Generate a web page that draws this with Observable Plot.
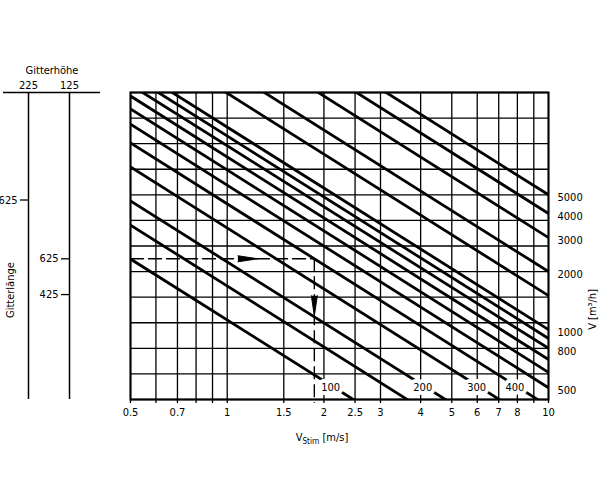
<!DOCTYPE html>
<html><head><meta charset="utf-8">
<script src="https://cdn.jsdelivr.net/npm/d3@7"></script>
<script src="https://cdn.jsdelivr.net/npm/@observablehq/plot@0.6"></script>
<style>
body{margin:0;background:#fff;}
#wrap{position:relative;width:600px;height:499px;}
#wrap svg{position:absolute;left:0;top:0;}
</style></head><body><div id="wrap"></div>
<script>
// x: face velocity [m/s] (log)
const speedGrid = [0.5,0.6,0.7,0.8,0.9,1,1.5,2,2.5,3,4,5,6,7,8,9,10];
const speedLabels = [0.5,0.7,1,1.5,2,2.5,3,4,5,6,7,8,10];
// diagonal lines: volume flow [m³/h]
const flowLines = [100,150,200,300,400,500,600,700,800,900,1000,1500,2000,3000,4000,5000];
const flowLabelsRight = [5000,4000,3000,2000,1000,800,500];
const flowLabelsBottom = [100,200,300,400];
const flowLabelRow = 500;
// y: equivalent flow at 10 m/s (log); horizontal grid every 2.5^(1/3)
const flowGridBase = 5000, flowGridRatio = 2.5 ** (1/3), flowGridSteps = [-8,-7,-6,-5,-4,-3,-2,-1,0,1,2,3,4];
const refSpeed = 10;
const slopeExp = 1.05;
// grille scale on the left
const gitterHoehe = ["225","125"];
const tickHoehe = ["225","125","125"];
const tickLaenge = [625,625,425];
const tickFlow = [4700,2330,1520];
// worked example
const exampleFlow = 400;
const exampleGrille = 1;
const exampleArrowSpeed = 1.08;
const exampleArrowFlow = 1500;

const gridQ = flowGridSteps.map(k => flowGridBase * flowGridRatio ** k);
const qMin = d3.min(gridQ), qMax = d3.max(gridQ);
const lineData = flowLines.flatMap(V => [speedGrid[0], refSpeed].map(v => ({V, v, q: V * (refSpeed / v) ** slopeExp})));
const tickData = tickHoehe.map((h, i) => ({hoehe: h, laenge: tickLaenge[i], q: tickFlow[i]}));
const exQ = tickFlow[exampleGrille];
const exV = refSpeed * (exampleFlow / exQ) ** (1 / slopeExp);
const speedAtRow = V => refSpeed * (V / flowLabelRow) ** (1 / slopeExp);

const font = "'Liberation Sans Narrow','DejaVu Sans Condensed','Arial Narrow',sans-serif";
const style = {fontFamily: font, fontSize: "11px", background: "transparent", color: "#000", overflow: "visible"};

const main = Plot.plot({
  width: 600, height: 499,
  marginLeft: 130, marginRight: 52, marginTop: 92, marginBottom: 100,
  style,
  x: {type: "log", domain: [0.5, 10], axis: null},
  y: {type: "log", domain: [qMin, qMax], axis: null},
  marks: [
    Plot.ruleY(gridQ, {y: d => d, stroke: "#000", strokeWidth: 1.3}),
    Plot.ruleX(speedGrid, {x: d => d, stroke: "#000", strokeWidth: 1.3, insetBottom: -4}),
    Plot.line(lineData, {x: "v", y: "q", z: "V", stroke: "#000", strokeWidth: 2.8, clip: true}),
    Plot.line([{v: 0.5, q: exQ}, {v: exV, q: exQ}], {x: "v", y: "q", stroke: "#000", strokeWidth: 1.4, strokeDasharray: "13,5"}),
    Plot.ruleX([exV], {x: d => d, y1: exQ, y2: qMin, stroke: "#000", strokeWidth: 1.4, strokeDasharray: "13,5", insetBottom: -4}),
    Plot.vector([{v: exampleArrowSpeed, q: exQ, r: 90}, {v: exV, q: exampleArrowFlow, r: 180}],
      {x: "v", y: "q", rotate: "r", length: 20, r: 3, shape: "spike", anchor: "start", fill: "#000", fillOpacity: 1, stroke: "#000", strokeWidth: 1}),
    Plot.frame({stroke: "#000", strokeWidth: 2}),
    Plot.text(flowLabelsBottom, {x: d => speedAtRow(d), y: () => flowLabelRow, text: d => String(d), dx: -4,
      fill: "#000", stroke: "white", strokeWidth: 8, paintOrder: "stroke"}),
    Plot.text(flowLabelsRight, {x: () => refSpeed, y: d => d, text: d => String(d), textAnchor: "start", dx: 9, dy: 3}),
    Plot.text(speedLabels, {x: d => d, frameAnchor: "bottom", dy: 16, text: d => String(d)}),
    Plot.text(["V [m³/h]"], {frameAnchor: "right", rotate: -90, dx: 44, dy: 43})
  ]
});

const xt = d3.select(main).append("text")
  .attr("x", 322).attr("y", 441).attr("text-anchor", "middle")
  .style("font-size", "11px").attr("fill", "#000");
xt.append("tspan").text("V");
xt.append("tspan").attr("dy", 3).style("font-size", "8px").text("Stirn");
xt.append("tspan").attr("dy", -3).text(" [m/s]");

const left = Plot.plot({
  width: 130, height: 499,
  marginLeft: 3, marginRight: 30, marginTop: 92, marginBottom: 100,
  style,
  x: {type: "point", domain: gitterHoehe, range: [28, 69], padding: 0, axis: null},
  y: {type: "log", domain: [qMin, qMax], axis: null},
  marks: [
    Plot.ruleX(gitterHoehe, {x: d => d, stroke: "#000", strokeWidth: 1.5}),
    Plot.ruleY([qMax], {y: d => d, stroke: "#000", strokeWidth: 1.5}),
    Plot.ruleY(tickData, {y: "q", x1: "hoehe", x2: "hoehe", insetLeft: -8, stroke: "#000", strokeWidth: 1.3}),
    Plot.text(tickData, {x: "hoehe", y: "q", text: d => String(d.laenge), textAnchor: "end", dx: -11}),
    Plot.text(gitterHoehe, {x: d => d, frameAnchor: "top", dy: -11, text: d => d}),
    Plot.text(["Gitterhöhe"], {frameAnchor: "top", dy: -26}),
    Plot.text(["Gitterlänge"], {frameAnchor: "left", rotate: -90, dx: 7, dy: 72})
  ]
});

const wrap = document.getElementById("wrap");
wrap.appendChild(main);
wrap.appendChild(left);
</script></body></html>
